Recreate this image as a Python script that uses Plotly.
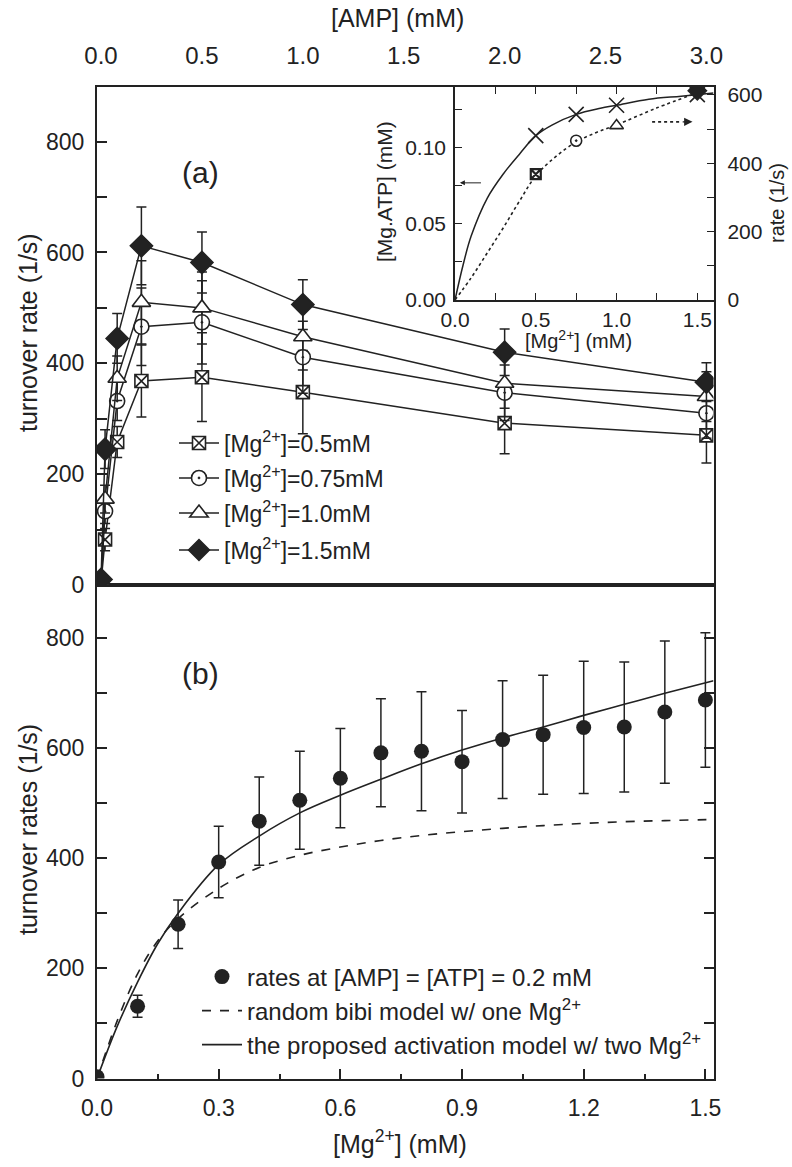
import plotly.graph_objects as go

W, H = 792, 1167
def px(x): return x / W
def py(y): return 1 - y / H

FONT = "Liberation Sans, Arial, sans-serif"
INK = "#222222"

# ---------------- panel (a) data: rate vs [AMP] ----------------
amp = [0, 0.02, 0.08, 0.2, 0.5, 1.0, 2.0, 3.0]
rate_mg05 = [5, 82, 258, 368, 375, 348, 292, 270]
err_mg05 = [3, 20, 28, 65, 80, 75, 55, 50]
rate_mg075 = [5, 133, 332, 466, 474, 411, 347, 310]
err_mg075 = [3, 22, 35, 70, 75, 65, 50, 45]
rate_mg10 = [5, 155, 373, 510, 500, 448, 364, 340]
err_mg10 = [3, 25, 40, 75, 65, 60, 45, 45]
rate_mg15 = [10, 245, 445, 612, 582, 506, 420, 366]
err_mg15 = [5, 35, 45, 70, 55, 45, 42, 35]
series_a_labels = ["[Mg<sup>2+</sup>]=0.5mM", "[Mg<sup>2+</sup>]=0.75mM",
                   "[Mg<sup>2+</sup>]=1.0mM", "[Mg<sup>2+</sup>]=1.5mM"]

# ---------------- inset data ----------------
inset_mg_curve = [0, 0.05, 0.1, 0.2, 0.3, 0.4, 0.5, 0.6, 0.75, 0.9, 1.0, 1.2, 1.4, 1.6]
mgatp_curve = [0, 0.023, 0.042, 0.067, 0.083, 0.096, 0.108, 0.115, 0.122, 0.126, 0.128, 0.132, 0.134, 0.136]
mgatp_marker_mg = [0.5, 0.75, 1.0, 1.5]
mgatp_marker = [0.108, 0.122, 0.128, 0.135]
inset_rate_mg = [0, 0.1, 0.2, 0.3, 0.4, 0.5, 0.625, 0.75, 0.875, 1.0, 1.25, 1.5]
inset_rate = [0, 65, 138, 212, 290, 363, 420, 462, 490, 512, 562, 606]
inset_point_mg = [0.5, 0.75, 1.0, 1.5]

# ---------------- panel (b) data: rate vs [Mg2+] ----------------
mg_b = [0, 0.1, 0.2, 0.3, 0.4, 0.5, 0.6, 0.7, 0.8, 0.9, 1.0, 1.1, 1.2, 1.3, 1.4, 1.5]
rates_b = [3, 131, 280, 393, 467, 505, 545, 591, 594, 575, 615, 624, 637, 638, 665, 687]
err_b = [0, 20, 44, 65, 80, 89, 90, 98, 108, 93, 107, 108, 120, 118, 129, 122]
model_mg = [0, 0.05, 0.1, 0.15, 0.2, 0.3, 0.4, 0.5, 0.6, 0.7, 0.8, 0.9, 1.0, 1.1, 1.2, 1.3, 1.4, 1.52]
model_two_mg = [0, 95, 175, 245, 300, 388, 440, 482, 514, 543, 571, 596, 618, 638, 659, 679, 699, 722]
model_one_mg = [0, 105, 190, 250, 290, 345, 383, 405, 420, 432, 441, 448, 454, 459, 463, 466, 468, 470]

fig = go.Figure()

# ---- panel (a) traces ----
symbols = ["square-x", "circle-dot", "triangle-up", "diamond"]
sizes = [13, 15, 16, 17]
legs = ["legend", "legend2", "legend3", "legend4"]
for vals, errs, lab, sym, sz, lg in zip(
        [rate_mg05, rate_mg075, rate_mg10, rate_mg15],
        [err_mg05, err_mg075, err_mg10, err_mg15],
        series_a_labels, symbols, sizes, legs):
    fig.add_trace(go.Scatter(
        x=amp, y=vals, xaxis="x2", yaxis="y2", mode="lines+markers", name=lab,
        legend=lg,
        line=dict(color=INK, width=1.5),
        marker=dict(symbol=sym, size=sz, color="white" if sym != "diamond" else INK,
                    line=dict(color=INK, width=1.6)),
        error_y=dict(type="data", array=errs, color=INK, thickness=1.5, width=5),
    ))

# ---- inset traces ----
fig.add_trace(go.Scatter(x=inset_mg_curve, y=mgatp_curve, xaxis="x3", yaxis="y3",
                         mode="lines", line=dict(color=INK, width=1.5, shape="spline"),
                         showlegend=False))
fig.add_trace(go.Scatter(x=mgatp_marker_mg, y=mgatp_marker, xaxis="x3", yaxis="y3",
                         mode="markers", marker=dict(symbol="x-thin-open", size=15, color=INK,
                                                     line=dict(color=INK, width=1.6)),
                         showlegend=False))
fig.add_trace(go.Scatter(x=inset_rate_mg, y=inset_rate, xaxis="x3", yaxis="y4",
                         mode="lines", line=dict(color=INK, width=1.6, dash="dot", shape="spline"),
                         showlegend=False))
inset_syms = ["square-x", "circle-dot", "triangle-up", "diamond"]
inset_sizes = [10, 11, 12, 14]
inset_vals = [rate_mg05[3], rate_mg075[3], rate_mg10[3], rate_mg15[3]]
for xv, yv, sym, sz in zip(inset_point_mg, inset_vals, inset_syms, inset_sizes):
    fig.add_trace(go.Scatter(x=[xv], y=[yv], xaxis="x3", yaxis="y4", mode="markers",
                             marker=dict(symbol=sym, size=sz,
                                         color="white" if sym != "diamond" else INK,
                                         line=dict(color=INK, width=2.2 if sym == "square-x" else 1.6)),
                             showlegend=False))

# ---- panel (b) traces ----
fig.add_trace(go.Scatter(x=model_mg, y=model_one_mg, mode="lines", xaxis="x", yaxis="y",
                         name="random bibi model w/ one Mg<sup>2+</sup>", legend="legend6",
                         line=dict(color=INK, width=1.6, dash="dash", shape="spline")))
fig.add_trace(go.Scatter(x=model_mg, y=model_two_mg, mode="lines", xaxis="x", yaxis="y",
                         name="the proposed activation model w/ two Mg<sup>2+</sup>", legend="legend7",
                         line=dict(color=INK, width=1.6, shape="spline")))
fig.add_trace(go.Scatter(x=mg_b, y=rates_b, mode="markers", xaxis="x", yaxis="y",
                         name="rates at [AMP] = [ATP] = 0.2 mM", legend="legend5",
                         marker=dict(symbol="circle", size=15, color=INK),
                         error_y=dict(type="data", array=err_b, color=INK, thickness=1.5, width=5)))

tickfont_main = dict(family=FONT, size=23, color=INK)
tickfont_inset = dict(family=FONT, size=21, color=INK)

def leg(xpx, ypx, size=23):
    return dict(x=px(xpx), y=py(ypx), xanchor="left", yanchor="middle",
                bgcolor="rgba(0,0,0,0)", font=dict(family=FONT, size=size, color=INK),
                itemwidth=40, borderwidth=0)

common = dict(showgrid=False, zeroline=False, automargin=False, linecolor=INK, tickcolor=INK)

fig.update_layout(
    width=W, height=H, margin=dict(l=0, r=0, t=0, b=0, autoexpand=False),
    paper_bgcolor="white", plot_bgcolor="white",
    font=dict(family=FONT, color=INK),
    legend=leg(174, 443), legend2=leg(174, 478), legend3=leg(174, 513), legend4=leg(174, 550),
    legend5=leg(197, 977, 24), legend6=leg(197, 1011, 24), legend7=leg(197, 1045, 24),
    xaxis=dict(domain=[px(97), px(713.5)], range=[0, 1.52], anchor="y",
               showline=True, linewidth=2, mirror=True,
               ticks="inside", ticklen=10, tickwidth=1.5,
               tick0=0, dtick=0.3, tickformat=".1f", tickfont=tickfont_main, ticklabelstandoff=8,
               minor=dict(ticks="inside", ticklen=5, dtick=0.15, tick0=0, tickwidth=1.5, tickcolor=INK),
               **common),
    yaxis=dict(domain=[py(1078.5), py(585)], range=[0, 895.6], anchor="x",
               showline=True, linewidth=2, mirror="ticks",
               ticks="inside", ticklen=10, tickwidth=1.5,
               tick0=0, dtick=200, tickfont=tickfont_main, ticklabelstandoff=6,
               minor=dict(ticks="inside", ticklen=10, dtick=100, tick0=0, tickwidth=1.5, tickcolor=INK),
               **common),
    xaxis2=dict(domain=[px(97), px(713.5)], range=[-0.02, 3.035], anchor="y2", side="top",
                showline=True, linewidth=2, mirror=True,
                ticks="", tick0=0, dtick=0.5, tickformat=".1f", ticklabelstandoff=11,
                tickfont=dict(family="Liberation Sans Narrow, " + FONT, size=24, color=INK),
                **common),
    yaxis2=dict(domain=[py(585), py(87)], range=[0, 898.6], anchor="x2",
                showline=True, linewidth=2, mirror=True,
                ticks="inside", ticklen=10, tickwidth=1.5,
                tick0=0, dtick=200, tickfont=tickfont_main, ticklabelstandoff=6,
                minor=dict(ticks="inside", ticklen=10, dtick=100, tick0=0, tickwidth=1.5, tickcolor=INK),
                **common),
    xaxis3=dict(domain=[px(455), px(713.5)], range=[0, 1.6], anchor="y3",
                showline=True, linewidth=1.5, mirror="ticks",
                ticks="inside", ticklen=7, tickwidth=1.2,
                tick0=0, dtick=0.5, tickformat=".1f", tickfont=tickfont_inset, ticklabelstandoff=0,
                minor=dict(ticks="inside", ticklen=7, dtick=0.25, tick0=0, tickwidth=1.2, tickcolor=INK),
                **common),
    yaxis3=dict(domain=[py(300), py(87)], range=[0, 0.14], anchor="x3",
                showline=True, linewidth=1.5,
                ticks="inside", ticklen=7, tickwidth=1.2,
                tick0=0, dtick=0.05, tickformat=".2f", tickfont=tickfont_inset, ticklabelstandoff=3,
                minor=dict(ticks="inside", ticklen=7, dtick=0.025, tick0=0, tickwidth=1.2, tickcolor=INK),
                **common),
    yaxis4=dict(overlaying="y3", side="right", range=[0, 623], anchor="x3",
                showline=True, linewidth=1.5,
                ticks="inside", ticklen=7, tickwidth=1.2,
                tick0=0, dtick=200, tickfont=tickfont_inset, ticklabelstandoff=8,
                minor=dict(ticks="inside", ticklen=7, dtick=100, tick0=0, tickwidth=1.2, tickcolor=INK),
                **common),
)

def ann(text, x, y, size, angle=0):
    fig.add_annotation(text=text, x=px(x), y=py(y), xref="paper", yref="paper",
                       xanchor="center", yanchor="middle",
                       showarrow=False, textangle=angle,
                       font=dict(family=FONT, size=size, color=INK))

ann("[AMP] (mM)", 397, 18, 25)
ann("turnover rate (1/s)", 28, 333, 25, -90)
ann("turnover rates (1/s)", 28, 830, 25, -90)
ann("[Mg<sup>2+</sup>] (mM)", 400, 1142, 25)
ann("(a)", 200, 173, 30)
ann("(b)", 200, 673, 30)
ann("[Mg.ATP] (mM)", 385, 192, 21, -90)
ann("rate (1/s)", 777, 203, 20, -90)
ann("[Mg<sup>2+</sup>] (mM)", 578, 339, 20)

# inset arrows
fig.add_annotation(x=0.03, y=0.077, ax=0.17, ay=0.077, xref="x3", yref="y3",
                   axref="x3", ayref="y3", text="", showarrow=True,
                   arrowhead=2, arrowsize=1, arrowwidth=1, arrowcolor=INK)
fig.add_shape(type="line", x0=1.22, x1=1.40, y0=521, y1=521, xref="x3", yref="y4",
              line=dict(color=INK, width=1.6, dash="dot"))
fig.add_annotation(x=1.47, y=521, ax=1.40, ay=521, xref="x3", yref="y4",
                   axref="x3", ayref="y4", text="", showarrow=True,
                   arrowhead=2, arrowsize=1.4, arrowwidth=1.2, arrowcolor=INK)

fig.write_html("out.html", config={"displayModeBar": False},
               post_script="document.body.style.margin='0';")
